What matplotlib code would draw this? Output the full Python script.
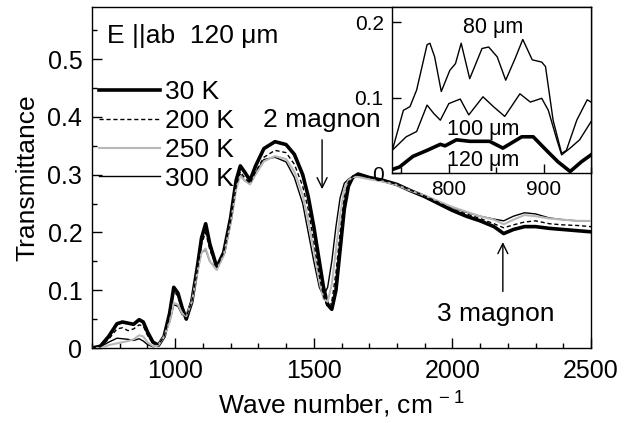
import numpy as np
import matplotlib
matplotlib.use("Agg")
import matplotlib.pyplot as plt
from matplotlib.ticker import MultipleLocator, FuncFormatter

plt.rcParams['font.family'] = ['Liberation Sans', 'DejaVu Sans']
plt.rcParams['mathtext.default'] = 'regular'

# main spectra, 120 um sample, E || ab
wavenumber = [700, 730, 760, 790, 810, 830, 850, 870, 885, 900, 920, 940, 960, 980, 995,
              1010, 1025, 1040, 1060, 1080, 1095, 1110, 1125, 1150, 1175, 1200, 1220, 1235,
              1250, 1270, 1290, 1320, 1360, 1400, 1430, 1460, 1480, 1500, 1520, 1535, 1550,
              1565, 1580, 1595, 1610, 1625, 1640, 1660, 1700, 1750, 1800, 1850, 1900, 1950,
              2000, 2050, 2100, 2150, 2185, 2220, 2260, 2300, 2350, 2400, 2450, 2500]

t_30K = [0.0, 0.003, 0.02, 0.042, 0.045, 0.043, 0.041, 0.049, 0.045, 0.028, 0.01, 0.005, 0.02,
         0.06, 0.105, 0.095, 0.07, 0.05, 0.08, 0.14, 0.19, 0.215, 0.18, 0.14, 0.165, 0.225, 0.29,
         0.315, 0.305, 0.29, 0.315, 0.345, 0.357, 0.352, 0.335, 0.3, 0.262, 0.21, 0.15, 0.105,
         0.075, 0.067, 0.1, 0.17, 0.24, 0.28, 0.295, 0.301, 0.295, 0.29, 0.283, 0.272, 0.262,
         0.25, 0.238, 0.228, 0.22, 0.21, 0.198, 0.205, 0.21, 0.21, 0.207, 0.205, 0.203, 0.201]

t_200K = [0.0, 0.002, 0.015, 0.033, 0.035, 0.03, 0.033, 0.04, 0.038, 0.022, 0.008, 0.006, 0.02,
          0.055, 0.098, 0.09, 0.068, 0.055, 0.08, 0.135, 0.18, 0.2, 0.17, 0.14, 0.165, 0.22, 0.28,
          0.305, 0.295, 0.285, 0.305, 0.33, 0.342, 0.338, 0.318, 0.28, 0.24, 0.185, 0.125, 0.09,
          0.07, 0.08, 0.13, 0.2, 0.26, 0.287, 0.297, 0.3, 0.295, 0.29, 0.283, 0.273, 0.263, 0.252,
          0.24, 0.232, 0.224, 0.215, 0.208, 0.213, 0.218, 0.22, 0.215, 0.213, 0.212, 0.21]

t_250K = [0.0, 0.0, 0.005, 0.008, 0.01, 0.012, 0.015, 0.022, 0.02, 0.01, 0.003, 0.005, 0.02,
          0.045, 0.078, 0.075, 0.06, 0.055, 0.08, 0.13, 0.165, 0.172, 0.15, 0.135, 0.16, 0.215,
          0.275, 0.298, 0.29, 0.283, 0.3, 0.323, 0.332, 0.327, 0.305, 0.265, 0.22, 0.17, 0.115,
          0.085, 0.08, 0.11, 0.17, 0.23, 0.275, 0.29, 0.296, 0.296, 0.292, 0.288, 0.282, 0.272,
          0.264, 0.254, 0.244, 0.236, 0.228, 0.222, 0.214, 0.222, 0.23, 0.228, 0.224, 0.222,
          0.22, 0.22]

t_300K = [0.0, 0.002, 0.01, 0.017, 0.016, 0.015, 0.013, 0.016, 0.012, 0.006, 0.002, 0.006, 0.02,
          0.045, 0.075, 0.072, 0.058, 0.055, 0.085, 0.135, 0.165, 0.17, 0.15, 0.137, 0.165, 0.22,
          0.28, 0.3, 0.29, 0.285, 0.303, 0.326, 0.33, 0.322, 0.295, 0.25, 0.2, 0.15, 0.105, 0.09,
          0.105, 0.15, 0.21, 0.26, 0.285, 0.292, 0.297, 0.298, 0.293, 0.288, 0.282, 0.272, 0.263,
          0.253, 0.243, 0.235, 0.228, 0.223, 0.22, 0.228, 0.234, 0.232, 0.225, 0.222, 0.22, 0.22]

# inset: thickness dependence at low frequency
wn_80 = [741, 752, 759, 766, 777, 780, 785, 792, 801, 807, 813, 822, 835, 842, 851, 860, 870,
         878, 888, 898, 902, 910, 919, 924, 935, 946, 950]
t_80 = [0.033, 0.083, 0.088, 0.11, 0.17, 0.172, 0.154, 0.108, 0.136, 0.145, 0.172, 0.125, 0.165,
        0.167, 0.154, 0.123, 0.152, 0.177, 0.15, 0.147, 0.141, 0.07, 0.026, 0.03, 0.07, 0.097,
        0.094]

wn_100 = [741, 755, 766, 777, 784, 791, 800, 812, 821, 836, 847, 859, 875, 886, 898, 905, 914,
          919, 928, 938, 950]
t_100 = [0.031, 0.048, 0.055, 0.09, 0.079, 0.07, 0.092, 0.098, 0.077, 0.101, 0.088, 0.075, 0.105,
         0.094, 0.099, 0.083, 0.044, 0.024, 0.033, 0.044, 0.068]

wn_120 = [741, 748, 762, 777, 791, 796, 808, 822, 843, 857, 877, 889, 903, 915, 928, 940, 950]
t_120 = [0.005, 0.008, 0.022, 0.03, 0.038, 0.036, 0.044, 0.042, 0.042, 0.033, 0.048, 0.048, 0.03,
         0.015, 0.002, 0.015, 0.024]

fig = plt.figure(figsize=(6.33, 4.23), dpi=100)
ax = fig.add_axes([92 / 633, 1 - 348 / 423, 499 / 633, 341 / 423])

ax.plot(wavenumber, t_300K, color='black', lw=1.0, label='300 K', zorder=2)
ax.plot(wavenumber, t_250K, color='#b8b8b8', lw=1.5, label='250 K', zorder=3)
ax.plot(wavenumber, t_200K, color='black', lw=1.0, ls=(0, (3, 2)), label='200 K', zorder=4)
ax.plot(wavenumber, t_30K, color='black', lw=2.6, label='30 K', zorder=1)

ax.set_xlim(700, 2500)
ax.set_ylim(0, 0.59)
ax.xaxis.set_major_locator(MultipleLocator(500))
ax.xaxis.set_minor_locator(MultipleLocator(100))
ax.yaxis.set_major_locator(MultipleLocator(0.1))
ax.yaxis.set_minor_locator(MultipleLocator(0.05))
ax.yaxis.set_major_formatter(FuncFormatter(lambda v, p: '0' if abs(v) < 1e-9 else f'{v:.1f}'))
ax.tick_params(which='both', direction='in', top=False, right=False, labelsize=18, width=1.0)
ax.tick_params(which='major', length=7)
ax.tick_params(which='minor', length=3.6)
ax.tick_params(axis='y', pad=7)
ax.tick_params(axis='x', pad=8)
for s in ax.spines.values():
    s.set_linewidth(1.0)

ax.set_xlabel('Wave number, cm$^{\\,-1}$', fontsize=19, labelpad=5)
ax.set_ylabel('Transmittance', fontsize=19, labelpad=6)

ax.text(0.03, 0.894, 'E ||ab  120 \u03bcm', transform=ax.transAxes, fontsize=19,
        ha='left', va='baseline')

h, l = ax.get_legend_handles_labels()
order = [3, 2, 1, 0]
ax.legend([h[i] for i in order], [l[i] for i in order], loc='upper left',
          bbox_to_anchor=(0.014, 0.785), frameon=False, fontsize=19, handlelength=2.3,
          handletextpad=0.2, labelspacing=0.18, borderpad=0, borderaxespad=0)

arrow = dict(arrowstyle='->', color='black', lw=1.0, mutation_scale=18)
ax.text(1530, 0.382, '2 magnon', fontsize=19, ha='center', va='baseline')
ax.annotate('', xy=(1530, 0.27), xytext=(1530, 0.365), arrowprops=arrow)
ax.text(2157, 0.046, '3 magnon', fontsize=19, ha='center', va='baseline')
ax.annotate('', xy=(2182, 0.188), xytext=(2182, 0.093), arrowprops=arrow)

# inset
ins = fig.add_axes([392 / 633, 1 - 173 / 423, 199 / 633, 166 / 423])
ins.plot(wn_80, t_80, color='black', lw=1.0)
ins.plot(wn_100, t_100, color='black', lw=1.0)
ins.plot(wn_120, t_120, color='black', lw=2.6)
ins.set_xlim(740, 950)
ins.set_ylim(0, 0.22)
ins.xaxis.set_major_locator(MultipleLocator(100))
ins.xaxis.set_minor_locator(MultipleLocator(50))
ins.yaxis.set_major_locator(MultipleLocator(0.1))
ins.yaxis.set_major_formatter(FuncFormatter(lambda v, p: '0' if abs(v) < 1e-9 else f'{v:.1f}'))
ins.tick_params(which='both', direction='in', labelsize=15, width=1.0)
ins.tick_params(which='major', length=6.5)
ins.tick_params(which='minor', length=4)
ins.tick_params(axis='y', pad=6)
ins.tick_params(axis='x', pad=5)
for s in ins.spines.values():
    s.set_linewidth(1.0)
ins.text(847, 0.185, '80 \u03bcm', fontsize=15.5, ha='center', va='baseline')
ins.text(836, 0.05, '100 \u03bcm', fontsize=15.5, ha='center', va='baseline')
ins.text(836, 0.009, '120 \u03bcm', fontsize=15.5, ha='center', va='baseline')

fig.savefig('out.png', dpi=100)
